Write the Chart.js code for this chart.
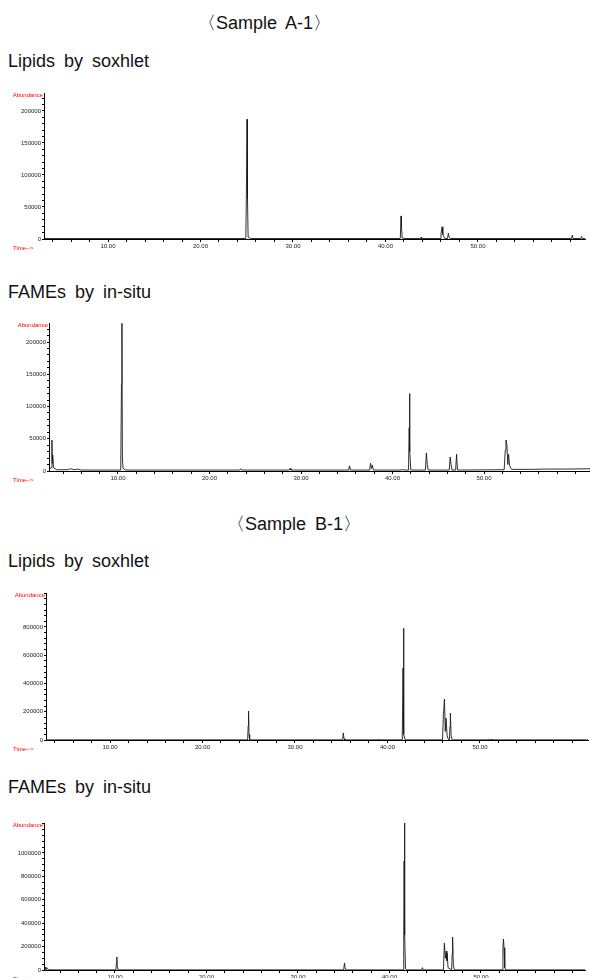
<!DOCTYPE html>
<html>
<head>
<meta charset="utf-8">
<script src="https://cdn.jsdelivr.net/npm/chart.js@4.4.0/dist/chart.umd.min.js"></script>
<style>
  body { margin: 0; background: #fff; width: 590px; height: 978px; position: relative; overflow: hidden; }
  .t { position: absolute; font-family: "Liberation Sans", Arial, sans-serif; color: #111; white-space: nowrap; word-spacing: 4px; font-size: 18px; }
  .box { position: absolute; left: 0; width: 590px; }
</style>
</head>
<body>
<div class="t" style="left:198px; top:11px;">〈Sample A-1〉</div>
<div class="t" style="left:8px; top:51px;">Lipids by soxhlet</div>
<div class="box" style="top:85px; height:170px;"><canvas id="c1" width="590" height="170"></canvas></div>
<div class="t" style="left:8px; top:282px;">FAMEs by in-situ</div>
<div class="box" style="top:315px; height:170px;"><canvas id="c2" width="590" height="170"></canvas></div>
<div class="t" style="left:227px; top:512px;">〈Sample B-1〉</div>
<div class="t" style="left:8px; top:551px;">Lipids by soxhlet</div>
<div class="box" style="top:585px; height:170px;"><canvas id="c3" width="590" height="170"></canvas></div>
<div class="t" style="left:8px; top:777px;">FAMEs by in-situ</div>
<div class="box" style="top:815px; height:163px;"><canvas id="c4" width="590" height="163"></canvas></div>
<script>
// retention time (min), abundance
const a1Lipids = [
  [3.1, 800], [24.9, 800], [24.98, 95000], [25.03, 187000], [25.08, 62000], [25.15, 3000], [25.4, 800],
  [41.6, 800], [41.68, 36000], [41.73, 20000], [41.8, 2000], [42.0, 800],
  [43.8, 800], [43.85, 3000], [43.9, 800],
  [45.9, 800], [46.0, 8000], [46.12, 19000], [46.2, 7000], [46.3, 4000], [46.4, 800],
  [46.7, 800], [46.8, 9000], [46.88, 3000], [47.0, 800],
  [60.1, 800], [60.2, 6000], [60.28, 800], [61.1, 800], [61.2, 4000], [61.28, 800], [61.6, 800]
];
const a1Fames = [
  [2.46, 3000], [2.7, 5000], [2.78, 48000], [2.82, 12000], [2.86, 25000], [2.95, 5000], [3.3, 2000],
  [4.5, 2000], [4.8, 3500], [5.2, 2000], [5.6, 3000], [6.0, 1500],
  [10.3, 1500], [10.38, 135000], [10.43, 229000], [10.48, 20000], [10.55, 4000], [10.8, 1500],
  [23.3, 1500], [23.4, 3500], [23.5, 1500], [28.7, 1500], [28.8, 4000], [28.9, 1500],
  [35.2, 1500], [35.3, 8000], [35.4, 1500],
  [37.5, 1500], [37.6, 12000], [37.7, 4000], [37.8, 9000], [37.9, 1500],
  [41.0, 1500], [41.1, 3000], [41.2, 1500],
  [41.75, 1500], [41.82, 67000], [41.86, 120000], [41.9, 30000], [42.0, 1500],
  [43.6, 1500], [43.7, 28000], [43.8, 10000], [43.9, 1500],
  [46.2, 1500], [46.3, 21700], [46.4, 10000], [46.5, 1500],
  [46.9, 1500], [47.0, 26000], [47.1, 1500],
  [52.2, 2000], [52.32, 32000], [52.4, 48000], [52.5, 40000], [52.6, 10000], [52.68, 26000], [52.8, 8000], [53.0, 2500],
  [55.0, 2500], [57.0, 3000], [59.0, 3000], [61.58, 3500]
];
const b1Lipids = [
  [3.1, 1000], [24.88, 1000], [24.94, 100000], [24.98, 205000], [25.03, 40000], [25.1, 2000], [25.3, 1000],
  [35.15, 1000], [35.22, 50000], [35.3, 10000], [35.4, 1000],
  [39.0, 1000], [39.1, 8000], [39.2, 1000],
  [41.6, 1000], [41.68, 509000], [41.73, 791000], [41.78, 40000], [41.9, 1000],
  [45.95, 1000], [46.05, 180000], [46.16, 290000], [46.25, 60000], [46.33, 155000], [46.45, 30000], [46.6, 1000],
  [46.7, 1000], [46.76, 100000], [46.8, 190000], [46.88, 30000], [47.0, 1000],
  [50.8, 1000], [50.9, 5000], [51.0, 1000], [51.2, 4000], [51.3, 1000], [61.68, 1000]
];
const b1Fames = [
  [2.24, 3000], [2.35, 25000], [2.45, 5000], [2.6, 15000], [2.7, 2000], [3.0, 1000],
  [10.1, 1000], [10.16, 60000], [10.2, 111000], [10.25, 30000], [10.35, 1000],
  [35.0, 1000], [35.08, 60000], [35.15, 20000], [35.25, 1000],
  [41.5, 1000], [41.56, 308000], [41.6, 932000], [41.64, 1265000], [41.68, 300000], [41.75, 10000], [41.9, 1000],
  [43.5, 1000], [43.6, 20000], [43.7, 1000],
  [45.9, 1000], [46.0, 230000], [46.1, 100000], [46.2, 162000], [46.27, 80000], [46.3, 145000], [46.4, 20000],
  [46.8, 1000], [46.85, 137000], [46.9, 282000], [46.98, 40000], [47.1, 1000],
  [52.3, 1000], [52.4, 190000], [52.46, 265000], [52.52, 190000], [52.6, 20000], [52.7, 1000],
  [51.0, 1000], [61.37, 1000]
];

const panels = [
  { id: 'c1', data: a1Lipids, xMin: 3.08, xMax: 61.57, yMax: 228000, yMajor: 50000, yMinor: 10000, yLabelMax: 200000, left: 44, right: 5, axisH: 16 },
  { id: 'c2', data: a1Fames, xMin: 2.46, xMax: 61.58, yMax: 229500, yMajor: 50000, yMinor: 10000, yLabelMax: 200000, left: 49, right: 0, axisH: 14 },
  { id: 'c3', data: b1Lipids, xMin: 3.08, xMax: 61.68, yMax: 1040700, yMajor: 200000, yMinor: 40000, yLabelMax: 800000, left: 46, right: 2, axisH: 15 },
  { id: 'c4', data: b1Fames, xMin: 2.24, xMax: 61.37, yMax: 1256000, yMajor: 200000, yMinor: 50000, yLabelMax: 1000000, left: 44, right: 5, axisH: 8 }
];

const tickFont = { family: 'Liberation Sans', size: 6 };

const labelsPlugin = {
  id: 'msLabels',
  afterDraw(chart) {
    const a = chart.chartArea, ctx = chart.ctx;
    ctx.save();
    ctx.fillStyle = '#ff0000';
    ctx.font = '6px "Liberation Sans"';
    ctx.textBaseline = 'middle';
    ctx.textAlign = 'right';
    ctx.fillText('Abundance', a.left - 1, a.top + 2);
    ctx.textAlign = 'left';
    ctx.fillText('Time-->', 13, a.bottom + 9);
    ctx.restore();
  }
};

panels.forEach(p => {
  const pts = p.data.slice().sort((u, v) => u[0] - v[0]).map(d => ({ x: d[0], y: d[1] }));
  new Chart(document.getElementById(p.id), {
    type: 'line',
    data: {
      datasets: [{
        data: pts,
        borderColor: '#1a1a1a',
        borderWidth: 0.9,
        pointRadius: 0,
        tension: 0,
        fill: false
      }]
    },
    options: {
      responsive: false,
      animation: false,
      layout: { padding: { top: 8, right: p.right, left: 0, bottom: 0 } },
      plugins: { legend: { display: false }, tooltip: { enabled: false } },
      scales: {
        x: {
          type: 'linear',
          min: p.xMin,
          max: p.xMax,
          afterFit: s => { s.height = p.axisH; },
          afterBuildTicks: s => {
            const t = [];
            for (let v = 4; v <= 60; v += 2) t.push({ value: v });
            s.ticks = t;
          },
          grid: { drawOnChartArea: false, drawTicks: true, tickLength: 3, color: '#000' },
          border: { color: '#000', width: 1 },
          ticks: {
            autoSkip: false, maxRotation: 0, padding: 1, color: '#222', font: tickFont,
            callback: v => (v % 10 === 0 && v < 60) ? v.toFixed(2) : ''
          }
        },
        y: {
          type: 'linear',
          min: 0,
          max: p.yMax,
          afterFit: s => { s.width = p.left; },
          afterBuildTicks: s => {
            const t = [];
            for (let v = 0; v <= p.yMax; v += p.yMinor) t.push({ value: v });
            s.ticks = t;
          },
          grid: { drawOnChartArea: false, drawTicks: true, tickLength: 2, color: '#000' },
          border: { color: '#000', width: 1 },
          ticks: {
            autoSkip: false, padding: 1, color: '#222', font: tickFont,
            callback: v => (v % p.yMajor === 0 && v <= p.yLabelMax) ? String(v) : ''
          }
        }
      }
    },
    plugins: [labelsPlugin]
  });
});
</script>
</body>
</html>
